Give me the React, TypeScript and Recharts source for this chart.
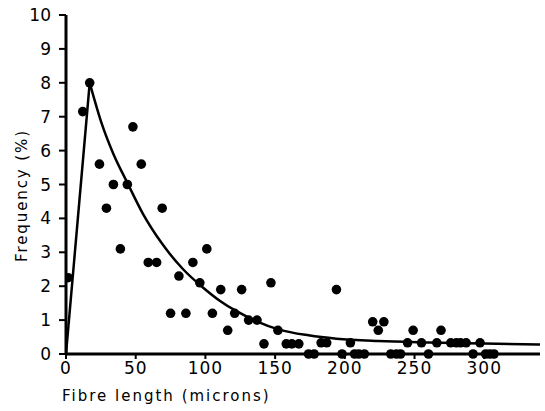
import React from 'react';
import {
  ComposedChart,
  Line,
  Scatter,
  XAxis,
  YAxis,
  Label,
} from 'recharts';

// Measured fibre length distribution (x = length in microns, v = frequency %)
const fibreLengths = [
  1.5, 12, 17, 24, 29, 34, 39, 44, 48, 54, 59, 65, 69, 75, 81, 86, 91, 96, 101, 105,
  111, 116, 121, 126, 131, 137, 142, 147, 152, 158, 162, 167, 174, 178, 183, 187, 194, 198, 204, 207,
  210, 214, 220, 224, 228, 233, 237, 240, 245, 249, 255, 260, 266, 269, 276, 280, 283, 287, 292, 297,
  301, 304, 307,
];
const frequencies = [
  2.25, 7.15, 8, 5.6, 4.3, 5.0, 3.1, 5.0, 6.7, 5.6, 2.7, 2.7, 4.3, 1.2, 2.3, 1.2, 2.7, 2.1, 3.1, 1.2,
  1.9, 0.7, 1.2, 1.9, 1.0, 1.0, 0.3, 2.1, 0.7, 0.3, 0.3, 0.3, 0, 0, 0.33, 0.33, 1.9, 0, 0.33, 0,
  0, 0, 0.95, 0.7, 0.95, 0, 0, 0, 0.33, 0.7, 0.33, 0, 0.33, 0.7, 0.33, 0.33, 0.33, 0.33, 0, 0.33,
  0, 0, 0,
];

// Fitted curve: straight rise, then smooth decay
const riseX = [0, 17];
const riseV = [0, 8];
const decayX = [17, 26, 34, 44, 55, 69, 84, 98, 110, 122, 136, 153, 174, 194, 224, 260, 300, 340];
const decayV = [8, 6.75, 5.9, 5.05, 4.15, 3.25, 2.5, 1.97, 1.58, 1.27, 0.98, 0.72, 0.55, 0.45, 0.38, 0.34, 0.31, 0.28];

const xTicks = [0, 50, 100, 150, 200, 250, 300];
const yTicks = [0, 1, 2, 3, 4, 5, 6, 7, 8, 9, 10];

const points = fibreLengths.map((x, i) => ({ x, v: frequencies[i] }));
const rise = riseX.map((x, i) => ({ x, v: riseV[i] }));
const decay = decayX.map((x, i) => ({ x, v: decayV[i] }));

const font = '"DejaVu Sans", sans-serif';

const Dot = (props: any) => {
  const { cx, cy } = props;
  return <circle cx={cx} cy={cy} r={4.8} fill="#000" />;
};

const renderXLabel = (props: any) => {
  const { viewBox } = props;
  return (
    <text
      x={viewBox.x - 4}
      y={viewBox.y + 47}
      fontFamily={font}
      fontSize={15}
      letterSpacing={2}
      fill="#000"
    >
      Fibre length (microns)
    </text>
  );
};

const renderYLabel = (props: any) => {
  const { viewBox } = props;
  const cx = 22;
  const cy = viewBox.y + viewBox.height / 2 + 11;
  return (
    <text
      x={cx}
      y={cy}
      transform={`rotate(-90, ${cx}, ${cy})`}
      textAnchor="middle"
      dominantBaseline="central"
      fontFamily={font}
      fontSize={15}
      letterSpacing={1.9}
      fill="#000"
    >
      Frequency (%)
    </text>
  );
};

export default function App() {
  return (
    <div style={{ position: 'absolute', left: 0, top: 0, background: '#fff' }}>
      <ComposedChart
        width={545}
        height={411}
        margin={{ top: 15, right: 5, left: 0, bottom: 0 }}
      >
        <XAxis
          type="number"
          dataKey="x"
          domain={[0, 340]}
          ticks={xTicks}
          allowDataOverflow
          height={57}
          tickSize={5}
          tickMargin={3}
          axisLine={{ stroke: '#000', strokeWidth: 3 }}
          tickLine={{ stroke: '#000', strokeWidth: 2 }}
          tick={{ fill: '#000', fontSize: 17, fontFamily: font, letterSpacing: 1 }}
        >
          <Label content={renderXLabel} />
        </XAxis>
        <YAxis
          type="number"
          dataKey="v"
          domain={[0, 10]}
          ticks={yTicks}
          width={66}
          tickSize={7}
          tickMargin={8}
          axisLine={{ stroke: '#000', strokeWidth: 3 }}
          tickLine={{ stroke: '#000', strokeWidth: 2 }}
          tick={{ fill: '#000', fontSize: 17, fontFamily: font }}
        >
          <Label content={renderYLabel} />
        </YAxis>
        <Line
          data={rise}
          dataKey="v"
          type="linear"
          stroke="#000"
          strokeWidth={2.5}
          dot={false}
          isAnimationActive={false}
        />
        <Line
          data={decay}
          dataKey="v"
          type="monotone"
          stroke="#000"
          strokeWidth={2.5}
          dot={false}
          isAnimationActive={false}
        />
        <Scatter
          data={points}
          dataKey="v"
          shape={<Dot />}
          isAnimationActive={false}
        />
      </ComposedChart>
    </div>
  );
}
